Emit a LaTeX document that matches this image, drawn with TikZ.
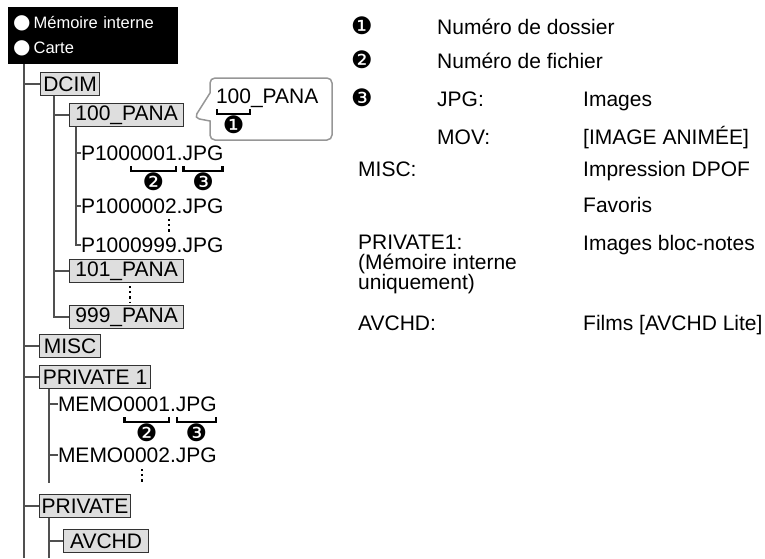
\documentclass[tikz,border=0pt]{standalone}
\usepackage{fontspec}
\setmainfont{Liberation Sans}
\newfontfamily\symfont{DejaVu Sans}
\usepackage{tikz}
\usetikzlibrary{positioning, calc, shapes.callouts}
\definecolor{folderfill}{RGB}{222, 222, 222}
\definecolor{treeline}{RGB}{80, 80, 80}
\definecolor{calloutgray}{RGB}{150, 150, 150}
\newcommand{\dirfont}{\fontsize{21}{24}\selectfont}
\newcommand{\hdrfont}{\fontsize{16.5}{25}\selectfont}
\newcommand{\circfont}{\symfont\fontsize{24}{24}\selectfont}
\newcommand{\bul}{{\symfont\fontsize{20}{25}\selectfont ●}\hspace{3pt}}
\tikzset{
    folder/.style={rectangle, draw=black!80, line width=1.2pt, fill=folderfill, inner xsep=2pt, inner ysep=0pt, minimum height=23pt, anchor=west, font=\dirfont},
    fname/.style={inner sep=0pt, outer sep=0pt, anchor=base west, font=\dirfont},
    tree/.style={draw=treeline, line width=2pt},
    brace/.style={draw=black, line width=2.4pt},
    num/.style={inner sep=0pt, font=\circfont},
    dots/.style={draw=black, line width=2.2pt, dash pattern=on 2.2pt off 3pt},
    legend/.style={inner sep=0pt, anchor=base west, font=\dirfont}
}
% bracket under a name part, with its number below
\newcommand{\numbrace}[3]{%
    \draw[brace] ($(#1.base west)+(1,6)$) -- ++(0,5) -| ($(#1.base east)+(-1,6)$);
    \node[num] (#2) at ($(#1.base)+(0,22)$) {#3};}

\begin{document}
\begin{tikzpicture}[x=1pt, y=-1pt,
    hdr/.style={rectangle, fill=black, text=white, anchor=north west, minimum height=57pt, text width=160pt, inner xsep=5pt, align=left, font=\hdrfont},
    callout/.style={rectangle callout, draw=calloutgray, line width=1.5pt, rounded corners=5pt, minimum width=122pt, minimum height=62pt, callout pointer width=28pt}
]
    \useasboundingbox (0,0) rectangle (765,558);

    % Header
    \node[hdr] (hdr) at (8,7) {\bul Mémoire interne\\ \bul Carte};
    \coordinate (trunkend) at (23.5,558);
    \draw[tree] (hdr.south -| trunkend) -- (trunkend);

    % DCIM
    \node[folder, minimum width=59pt] (dcim) at (40,84) {DCIM};
    \coordinate (dcimx) at (54,0);
    \node[folder, minimum width=114pt] (pana100) at (69,115) {100\_PANA};
    \node[folder, minimum width=114pt] (pana101) at (69,271) {101\_PANA};
    \node[folder, minimum width=114pt] (pana999) at (69,317) {999\_PANA};
    \draw[tree] (dcim.west -| trunkend) -- (dcim.west);
    \draw[tree] (dcim.south -| dcimx) |- (pana999.west);
    \draw[tree] (pana100.west -| dcimx) -- (pana100.west);
    \draw[tree] (pana101.west -| dcimx) -- (pana101.west);
    \draw[dots] (130,286) -- (130,302);

    % Files in 100_PANA
    \coordinate (panax) at (76,0);
    \node[fname] (f1a) at (81,160) {P100};
    \node[fname] (f1b) at (f1a.base east) {0001};
    \node[fname] (f1c) at (f1b.base east) {.};
    \node[fname] (f1d) at (f1c.base east) {JPG};
    \node[fname] (f2) at (81,213) {P1000002.JPG};
    \node[fname] (f3) at (81,252) {P1000999.JPG};
    \draw[tree] (pana100.south -| panax) |- (f3.west);
    \draw[tree] (f1a.west -| panax) -- (f1a.west);
    \draw[tree] (f2.west -| panax) -- (f2.west);
    \numbrace{f1b}{fn2}{❷}
    \numbrace{f1d}{fn3}{❸}
    \draw[dots] (169,219) -- (169,234);

    % Callout
    \node[callout, callout absolute pointer={($(pana100.east)+(10,3)$)}] (callbox) at (271,109) {};
    \node[fname] (c1) at (216,103) {100};
    \node[fname] (c2) at (c1.base east) {\_PANA};
    \numbrace{c1}{cn1}{❶}

    % MISC, PRIVATE 1
    \node[folder, minimum width=61pt] (misc) at (39,346) {MISC};
    \node[folder, minimum width=111pt] (priv1) at (39,377) {PRIVATE 1};
    \draw[tree] (misc.west -| trunkend) -- (misc.west);
    \draw[tree] (priv1.west -| trunkend) -- (priv1.west);
    \coordinate (privx) at (49,0);
    \coordinate (memoend) at (49,483);
    \node[fname] (m1a) at (58,411) {MEMO};
    \node[fname] (m1b) at (m1a.base east) {0001};
    \node[fname] (m1c) at (m1b.base east) {.};
    \node[fname] (m1d) at (m1c.base east) {JPG};
    \node[fname] (m2) at (58,462) {MEMO0002.JPG};
    \draw[tree] (priv1.south -| privx) -- (memoend);
    \draw[tree] (m1a.west -| privx) -- (m1a.west);
    \draw[tree] (m2.west -| privx) -- (m2.west);
    \numbrace{m1b}{mn2}{❷}
    \numbrace{m1d}{mn3}{❸}
    \draw[dots] (142,469) -- (142,484);

    % PRIVATE, AVCHD
    \node[folder, minimum width=91pt] (priv) at (39,506) {PRIVATE};
    \node[folder, minimum width=85pt] (avchd) at (63,541) {AVCHD};
    \coordinate (avchdend) at (49,558);
    \draw[tree] (priv.west -| trunkend) -- (priv.west);
    \draw[tree] (priv.south -| privx) -- (avchdend);
    \draw[tree] (avchd.west -| privx) -- (avchd.west);

    % Legend
    \node[num] (n1) at (362,26) {❶};
    \node[legend] (l1) at (437,34) {Numéro de dossier};
    \node[num] (n2) at (362,60) {❷};
    \node[legend] (l2) at (437,68) {Numéro de fichier};
    \node[num] (n3) at (362,98) {❸};
    \node[legend] (l3) at (437,106) {JPG:};
    \node[legend] (d3) at (583,106) {Images};
    \node[legend] (l4) at (437,144) {MOV:};
    \node[legend] (d4) at (583,144) {[IMAGE ANIMÉE]};
    \node[legend] (l5) at (358,176) {MISC:};
    \node[legend] (d5) at (583,176) {Impression DPOF};
    \node[legend] (d6) at (583,212) {Favoris};
    \node[legend, anchor=north west, align=left, font=\fontsize{21}{20}\selectfont] (l7) at (358,235) {PRIVATE1:\\(Mémoire interne\\uniquement)};
    \node[legend] (d7) at (583,250) {Images bloc-notes};
    \node[legend] (l8) at (358,330) {AVCHD:};
    \node[legend] (d8) at (583,330) {Films [AVCHD Lite]};
\end{tikzpicture}
\end{document}
